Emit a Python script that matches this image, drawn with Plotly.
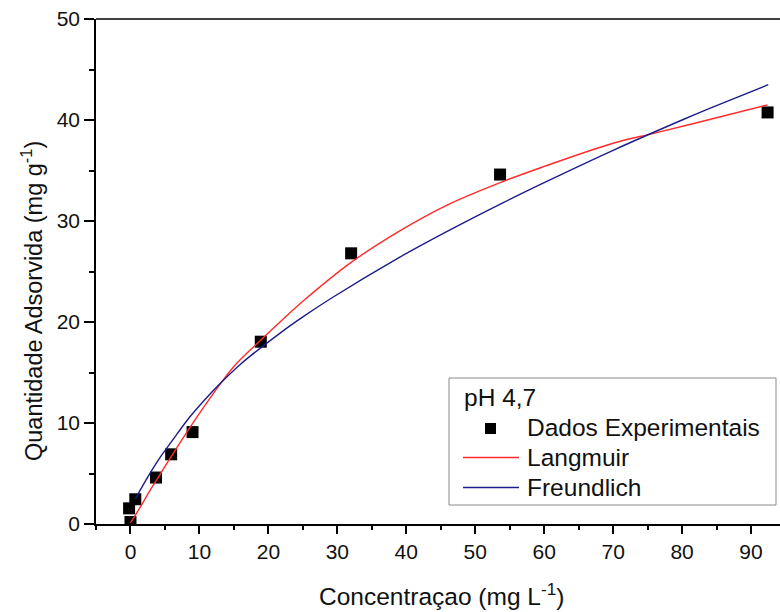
import plotly.graph_objects as go

# Experimental adsorption data (pH 4,7)
conc_exp = [0.0, -0.2, 0.7, 3.7, 5.9, 9.0, 18.9, 32.0, 53.6, 92.4]
q_exp = [0.2, 1.55, 2.45, 4.6, 6.9, 9.1, 18.05, 26.8, 34.6, 40.75]

# Langmuir fitted curve
conc_lang = [0.0, 1.0, 2.0, 2.9, 4.0, 6.3, 8.0, 10.0, 13.0, 15.0, 18.8, 22.0,
             25.0, 32.0, 39.0, 46.0, 54.0, 60.0, 70.0, 76.0, 84.0, 92.4]
q_lang = [0.1, 1.2, 2.35, 3.4, 4.6, 7.1, 8.9, 10.95, 13.85, 15.6, 18.15, 20.2,
          22.05, 25.9, 29.0, 31.6, 33.9, 35.4, 37.7, 38.7, 40.05, 41.5]

# Freundlich fitted curve
conc_freu = [0.7, 1.45, 2.5, 4.35, 6.0, 8.2, 10.0, 13.0, 16.0, 21.7, 25.0, 29.0,
             39.0, 46.0, 54.0, 60.0, 70.0, 80.0, 84.0, 92.5]
q_freu = [2.45, 3.4, 4.65, 6.65, 8.2, 10.25, 11.7, 13.9, 15.85, 18.9, 20.5, 22.3,
          26.4, 29.0, 31.8, 33.8, 37.0, 40.0, 41.15, 43.5]

x_ticks = [0, 10, 20, 30, 40, 50, 60, 70, 80, 90]
y_ticks = [0, 10, 20, 30, 40, 50]

legend_title = "pH 4,7"
series_names = ["Dados Experimentais", "Langmuir", "Freundlich"]
LANG_COLOR = "#ff2a2a"
FREU_COLOR = "#1c1c8a"

FONT = "Arial, Liberation Sans, sans-serif"
TXT = "#111111"

# Figure / plot-area geometry in pixels
W, H = 780, 612
ML, MR, MT, MB = 96, 0, 19, 88
PW, PH = W - ML - MR, H - MT - MB


def px(x):
    return (x - ML) / PW


def py(y):
    return (H - MB - y) / PH


fig = go.Figure()
fig.add_trace(go.Scatter(
    x=conc_exp, y=q_exp, mode="markers", name=series_names[0],
    marker=dict(symbol="square", size=12, color="black"),
))
fig.add_trace(go.Scatter(
    x=conc_lang, y=q_lang, mode="lines", name=series_names[1],
    line=dict(color=LANG_COLOR, width=1.4, shape="spline", smoothing=1.0),
))
fig.add_trace(go.Scatter(
    x=conc_freu, y=q_freu, mode="lines", name=series_names[2],
    line=dict(color=FREU_COLOR, width=1.4, shape="spline", smoothing=1.0),
))

axis_common = dict(
    ticks="outside", tickwidth=1.5, tickcolor="black",
    showline=True, linecolor="black", linewidth=1.5,
    showgrid=False, zeroline=False, automargin=False,
    tickfont=dict(size=21, family=FONT, color=TXT),
)

# Boxed legend in the lower right of the plot area
shapes = [
    dict(type="line", xref="paper", yref="paper", x0=0, x1=1, y0=1, y1=1,
         line=dict(color="black", width=1.5)),
    dict(type="rect", xref="paper", yref="paper", x0=px(449), x1=px(776),
         y0=py(505), y1=py(378), fillcolor="white",
         line=dict(color="#8a8a8a", width=1), layer="above"),
    dict(type="rect", xref="paper", yref="paper", x0=px(485), x1=px(496),
         y0=py(434), y1=py(423), fillcolor="black", line=dict(width=0),
         layer="above"),
    dict(type="line", xref="paper", yref="paper", x0=px(463), x1=px(519),
         y0=py(457.5), y1=py(457.5), line=dict(color=LANG_COLOR, width=1.4),
         layer="above"),
    dict(type="line", xref="paper", yref="paper", x0=px(463), x1=px(519),
         y0=py(487.5), y1=py(487.5), line=dict(color=FREU_COLOR, width=1.4),
         layer="above"),
]

legend_font = dict(size=24.5, family=FONT, color=TXT)
annotations = [
    dict(text=legend_title, xref="paper", yref="paper", x=px(462), y=py(397.5),
         xanchor="left", yanchor="middle", showarrow=False, font=legend_font),
]
for name, yc in zip(series_names, [427.5, 457.5, 487.5]):
    annotations.append(dict(text=name, xref="paper", yref="paper", x=px(525),
                            y=py(yc), xanchor="left", yanchor="middle",
                            showarrow=False, font=legend_font))

annotations += [
    dict(text="Concentraçao (mg L<sup>-1</sup>)", xref="paper", yref="paper",
         x=px(441), y=py(594), xanchor="center", yanchor="middle", showarrow=False,
         font=dict(size=24.5, family=FONT, color=TXT)),
    dict(text="Quantidade Adsorvida (mg g<sup>-1</sup>)", xref="paper", yref="paper",
         x=px(32), y=py(301), xanchor="center", yanchor="middle", showarrow=False,
         textangle=-90, font=dict(size=23.5, family=FONT, color=TXT)),
]

fig.update_layout(
    width=W, height=H,
    margin=dict(l=ML, r=MR, t=MT, b=MB),
    paper_bgcolor="white", plot_bgcolor="white",
    font=dict(family=FONT, color=TXT, size=20),
    showlegend=False,
    xaxis=dict(
        range=[-5, 94.2], tickvals=x_ticks, ticklen=8,
        minor=dict(dtick=5, tick0=-5, ticks="outside", ticklen=4,
                   tickwidth=1.5, tickcolor="black", showgrid=False),
        **axis_common,
    ),
    yaxis=dict(
        range=[0, 50], tickvals=y_ticks, ticklen=10,
        minor=dict(dtick=5, tick0=0, ticks="outside", ticklen=5,
                   tickwidth=1.5, tickcolor="black", showgrid=False),
        **axis_common,
    ),
    shapes=shapes,
    annotations=annotations,
)

fig.write_html("out.html")
